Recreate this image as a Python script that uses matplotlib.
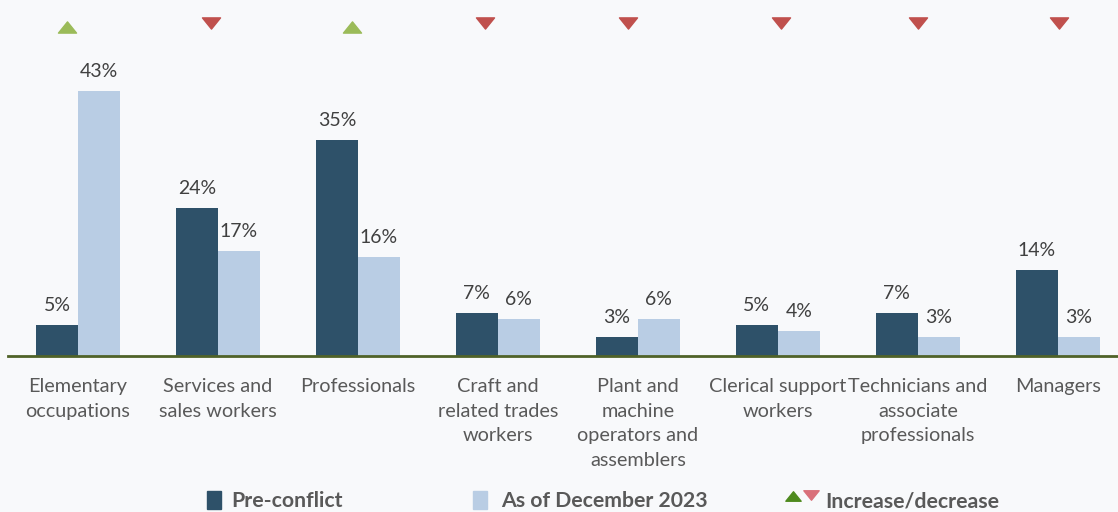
import matplotlib.pyplot as plt
from matplotlib.patches import Rectangle
from matplotlib.lines import Line2D
from matplotlib.path import Path

plt.rcParams['font.family'] = ['Lato', 'DejaVu Sans']

categories = ['Elementary\noccupations', 'Services and\nsales workers', 'Professionals',
              'Craft and\nrelated trades\nworkers', 'Plant and\nmachine\noperators and\nassemblers',
              'Clerical support\nworkers', 'Technicians and\nassociate\nprofessionals', 'Managers']
pre_conflict = [5, 24, 35, 7, 3, 5, 7, 14]
dec_2023 = [43, 17, 16, 6, 6, 4, 3, 3]
trend = ['up', 'down', 'up', 'down', 'down', 'down', 'down', 'down']

DARK = '#2e5169'
LIGHT = '#b9cde4'
UP = '#9bbb59'
DOWN = '#c0504d'
BG = '#f8f9fb'

fig = plt.figure(figsize=(11.18, 5.12), dpi=100, facecolor=BG)
ax = fig.add_axes([8 / 1118, 156 / 512, 1 - 8 / 1118, 356 / 512])
ax.set_facecolor(BG)

x = list(range(len(categories)))
w = 0.3
b1 = ax.bar([i - w / 2 for i in x], pre_conflict, w, color=DARK, label='Pre-conflict')
b2 = ax.bar([i + w / 2 for i in x], dec_2023, w, color=LIGHT, label='As of December 2023')

for bars in (b1, b2):
    for r in bars:
        ax.annotate(f'{r.get_height():.0f}%', (r.get_x() + r.get_width() / 2, r.get_height()),
                    xytext=(0, 8), textcoords='offset points', ha='center', va='bottom',
                    fontsize=14, color='#404040')

# flattened triangles for the change markers
tri_up = Path([(-1, -0.62), (1, -0.62), (0, 0.62), (-1, -0.62)],
              [Path.MOVETO, Path.LINETO, Path.LINETO, Path.CLOSEPOLY])
tri_down = Path([(-1, 0.62), (1, 0.62), (0, -0.62), (-1, 0.62)],
                [Path.MOVETO, Path.LINETO, Path.LINETO, Path.CLOSEPOLY])
shift = [-0.08, -0.05, -0.04, -0.09, -0.07, 0.02, 0.0, 0.01]
for i, t in enumerate(trend):
    if t == 'up':
        ax.plot(i + shift[i], 53.4, marker=tri_up, markersize=13, color=UP, clip_on=False)
    else:
        ax.plot(i + shift[i], 54.0, marker=tri_down, markersize=13, color=DOWN, clip_on=False)

ax.set_xlim(-0.5, 7.43)
ax.set_ylim(0, 57.7)
ax.set_xticks(x)
ax.set_xticklabels(categories, fontsize=14.3, color='#595959', linespacing=1.57, va='top')
ax.tick_params(axis='x', length=0, pad=15.5)
ax.set_yticks([])
for s in ('top', 'right', 'left'):
    ax.spines[s].set_visible(False)
ax.spines['bottom'].set_color('#4f6228')
ax.spines['bottom'].set_linewidth(2)

# legend along the bottom
H, W = 512, 1118
fig.patches.append(Rectangle((207 / W, (H - 509) / H), 14 / W, 18 / H, color=DARK, transform=fig.transFigure))
fig.text(231 / W, (H - 501) / H, 'Pre-conflict', fontsize=15.3, fontweight='bold', color='#595959', va='center')
fig.patches.append(Rectangle((473 / W, (H - 509) / H), 14 / W, 18 / H, color=LIGHT, transform=fig.transFigure))
fig.text(501 / W, (H - 501) / H, 'As of December 2023', fontsize=15.3, fontweight='bold', color='#595959', va='center')
fig.lines.append(Line2D([793 / W], [(H - 496) / H], marker=tri_up, markersize=11, color='#4e8a1e',
                        transform=fig.transFigure))
fig.lines.append(Line2D([811 / W], [(H - 495) / H], marker=tri_down, markersize=11, color='#d9707a',
                        transform=fig.transFigure))
fig.text(825 / W, (H - 501) / H, 'Increase/decrease', fontsize=15.3, fontweight='bold', color='#595959', va='center')

fig.savefig('out.png', dpi=100, facecolor=BG)
